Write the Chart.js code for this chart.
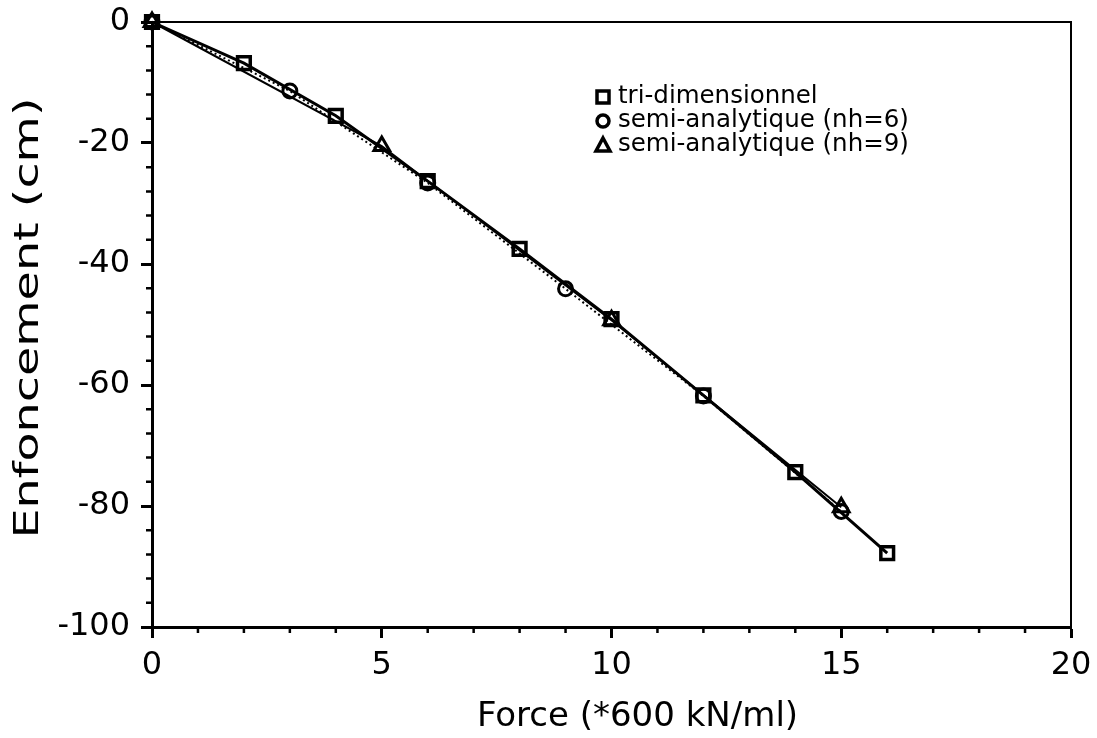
<!DOCTYPE html>
<html lang="fr">
<head>
  <meta charset="UTF-8">
  <title>Enfoncement vs Force</title>
  <script src="https://cdn.jsdelivr.net/npm/chart.js"></script>
  <style>
    html, body {
      margin: 0;
      padding: 0;
      background: #fff;
    }
    .wrap {
      width: 1097px;
      height: 738px;
    }
  </style>
</head>
<body>
  <div class="wrap">
    <canvas id="chart" width="1097" height="738"></canvas>
  </div>

  <script>
    // values
    const triX = [0, 2, 4, 6, 8, 10, 12, 14, 16];
    const triY = [0, -6.8, -15.5, -26.3, -37.5, -49.1, -61.7, -74.4, -87.8];

    const nh6X = [0, 3, 6, 9, 12, 15];
    const nh6Y = [0, -11.4, -26.6, -44.1, -61.8, -80.9];

    const nh9X = [0, 5, 10, 15];
    const nh9Y = [0, -20.5, -49.3, -80.2];

    const labels = ['tri-dimensionnel', 'semi-analytique (nh=6)', 'semi-analytique (nh=9)'];
    const xTitle = 'Force (*600 kN/ml)';
    const yTitle = 'Enfoncement (cm)';

    const FONT = "'DejaVu Sans', sans-serif";

    function pts(xs, ys) {
      return xs.map((x, i) => ({ x: x, y: ys[i] }));
    }

    function noPad(s) {
      s.paddingTop = 0;
      s.paddingBottom = 0;
      s.paddingLeft = 0;
      s.paddingRight = 0;
    }

    // frame, minor ticks, axis titles and the in-plot legend
    const extras = {
      id: 'extras',
      afterDraw(chart) {
        const ctx = chart.ctx;
        const a = chart.chartArea;
        const sx = chart.scales.x;
        const sy = chart.scales.y;

        ctx.save();
        ctx.strokeStyle = '#000';
        ctx.lineWidth = 2;
        ctx.beginPath();
        ctx.moveTo(a.left, a.top);
        ctx.lineTo(a.right, a.top);
        ctx.lineTo(a.right, a.bottom);
        ctx.stroke();

        ctx.lineWidth = 2.5;
        ctx.beginPath();
        for (let v = 1; v < 20; v++) {
          if (v % 5 === 0) continue;
          const px = sx.getPixelForValue(v);
          ctx.moveTo(px, a.bottom);
          ctx.lineTo(px, a.bottom + 6);
        }
        for (let v = -96; v < 0; v += 4) {
          if (v % 20 === 0) continue;
          const py = sy.getPixelForValue(v);
          ctx.moveTo(a.left, py);
          ctx.lineTo(a.left - 6, py);
        }
        ctx.stroke();

        // axis titles
        ctx.fillStyle = '#000';
        ctx.textAlign = 'center';
        ctx.textBaseline = 'middle';
        ctx.font = '34px ' + FONT;
        ctx.fillText(xTitle, (a.left + a.right) / 2 + 26, 717);

        ctx.save();
        ctx.translate(29, 318);
        ctx.rotate(-Math.PI / 2);
        ctx.scale(1.4, 1);
        ctx.fillText(yTitle, 0, 0);
        ctx.restore();

        // legend
        const lx = 603, ly = 97, step = 24;
        ctx.font = '24.5px ' + FONT;
        ctx.textAlign = 'left';
        chart.data.datasets.forEach((ds, i) => {
          const y = ly + i * step;
          ctx.lineWidth = 3.5;
          ctx.beginPath();
          if (ds.pointStyle === 'rect') {
            ctx.rect(lx - 6, y - 6, 12, 12);
          } else if (ds.pointStyle === 'circle') {
            ctx.arc(lx, y, 6, 0, Math.PI * 2);
          } else {
            ctx.moveTo(lx, y - 7);
            ctx.lineTo(lx + 7, y + 6);
            ctx.lineTo(lx - 7, y + 6);
            ctx.closePath();
          }
          ctx.stroke();
          ctx.fillText(ds.label, lx + 15, y);
        });
        ctx.restore();
      }
    };

    new Chart(document.getElementById('chart'), {
      type: 'scatter',
      data: {
        datasets: [
          {
            label: labels[0],
            data: pts(triX, triY),
            showLine: true,
            borderColor: '#000',
            borderWidth: 3,
            pointStyle: 'rect',
            pointRadius: 9,
            pointBorderWidth: 3.5,
            pointBorderColor: '#000',
            pointBackgroundColor: 'rgba(0,0,0,0)',
            clip: false
          },
          {
            label: labels[1],
            data: pts(nh6X, nh6Y),
            showLine: true,
            borderColor: '#000',
            borderWidth: 2,
            borderDash: [2, 3],
            pointStyle: 'circle',
            pointRadius: 7,
            pointBorderWidth: 3,
            pointBorderColor: '#000',
            pointBackgroundColor: 'rgba(0,0,0,0)',
            clip: false
          },
          {
            label: labels[2],
            data: pts(nh9X, nh9Y),
            showLine: true,
            borderColor: '#000',
            borderWidth: 2,
            pointStyle: 'triangle',
            pointRadius: 9,
            pointBorderWidth: 3,
            pointBorderColor: '#000',
            pointBackgroundColor: 'rgba(0,0,0,0)',
            clip: false
          }
        ]
      },
      options: {
        responsive: false,
        animation: false,
        layout: { padding: { top: 22, right: 26, left: 0, bottom: 0 } },
        plugins: {
          legend: { display: false },
          tooltip: { enabled: false }
        },
        scales: {
          x: {
            type: 'linear',
            min: 0,
            max: 20,
            afterFit(s) { s.height = 111; noPad(s); },
            border: { color: '#000', width: 3 },
            grid: { drawOnChartArea: false, drawTicks: true, tickLength: 11, tickWidth: 3, color: '#000' },
            ticks: { stepSize: 5, color: '#000', font: { family: FONT, size: 32 }, padding: 8 },
            title: { display: false }
          },
          y: {
            type: 'linear',
            min: -100,
            max: 0,
            afterFit(s) { s.width = 152; noPad(s); },
            border: { color: '#000', width: 3 },
            grid: { drawOnChartArea: false, drawTicks: true, tickLength: 11, tickWidth: 3, color: '#000' },
            ticks: { stepSize: 20, color: '#000', font: { family: FONT, size: 32 }, padding: 11 },
            title: { display: false }
          }
        }
      },
      plugins: [extras]
    });
  </script>
</body>
</html>
